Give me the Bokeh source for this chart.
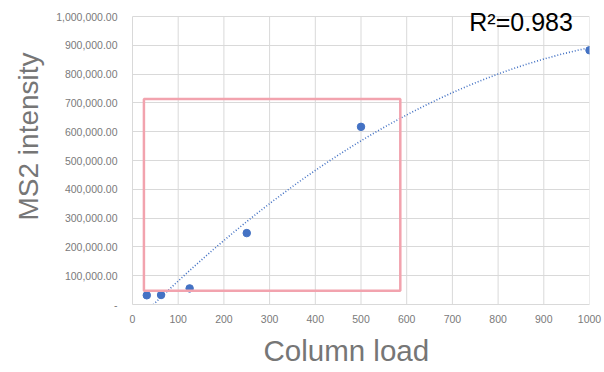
import numpy as np
from bokeh.plotting import figure
from bokeh.models import FixedTicker, Label, Range1d, Title
from bokeh.embed import file_html
from bokeh.resources import INLINE

# ---- data ----
column_load = [31.25, 62.5, 125, 250, 500, 1000]
ms2_intensity = [32000, 33000, 56000, 248000, 617000, 883000]
r2_text = "R\u00b2=0.983"
x_ticks = [0, 100, 200, 300, 400, 500, 600, 700, 800, 900, 1000]
y_ticks = [0, 100000, 200000, 300000, 400000, 500000, 600000, 700000, 800000, 900000, 1000000]
y_tick_labels = ["-", "100,000.00", "200,000.00", "300,000.00", "400,000.00", "500,000.00",
                 "600,000.00", "700,000.00", "800,000.00", "900,000.00", "1,000,000.00"]
highlight_box = {"left": 25, "right": 586, "bottom": 48000, "top": 714000}
x_title = "Column load"
y_title = "MS2 intensity"

FONT = "Liberation Sans"
GRID = "#d9d9d9"
BLUE = "#4472C4"

p = figure(width=604, height=372, output_backend="svg", toolbar_location=None,
           x_range=Range1d(0, 1000), y_range=Range1d(0, 1035000),
           min_border_left=131, min_border_right=15, min_border_top=6, min_border_bottom=66)
p.outline_line_color = None
p.background_fill_color = "white"
p.border_fill_color = "white"

for ax in (p.xaxis[0], p.yaxis[0]):
    ax.axis_line_color = GRID
    ax.major_tick_line_color = None
    ax.minor_tick_line_color = None
    ax.major_tick_out = 0
    ax.major_tick_in = 0
    ax.major_label_text_font = FONT
    ax.major_label_text_font_size = "10.5px"
    ax.major_label_text_color = "#7a7a7a"

p.xaxis[0].ticker = FixedTicker(ticks=x_ticks)
p.yaxis[0].ticker = FixedTicker(ticks=y_ticks)
p.yaxis[0].bounds = (y_ticks[0], y_ticks[-1])
p.yaxis[0].major_label_overrides = {t: l for t, l in zip(y_ticks, y_tick_labels)}
p.xaxis[0].major_label_standoff = 10
p.yaxis[0].major_label_standoff = 15

p.xgrid.visible = False
p.ygrid.grid_line_color = GRID
p.ygrid.ticker = FixedTicker(ticks=y_ticks)

# vertical grid lines limited to the value axis extent
p.segment(x0=x_ticks, y0=[y_ticks[0]] * len(x_ticks), x1=x_ticks,
          y1=[y_ticks[-1]] * len(x_ticks), line_color=GRID, line_width=1)

# trend line (2nd-order polynomial fit of the data)
coef = np.polyfit(column_load, ms2_intensity, 2)
tx = np.linspace(min(column_load), max(column_load), 300)
ty = np.polyval(coef, tx)
p.line(tx, ty, line_color=BLUE, line_width=1.6, line_dash="1 2")

p.scatter(column_load, ms2_intensity, size=7.5, fill_color=BLUE, line_color=BLUE)

p.quad(left=[highlight_box["left"]], right=[highlight_box["right"]],
       bottom=[highlight_box["bottom"]], top=[highlight_box["top"]],
       fill_color=None, line_color="#F2A3AE", line_width=2.5)

p.add_layout(Label(x=737, y=1030500, text=r2_text, text_font=FONT,
                   text_font_size="25px", text_color="black",
                   text_align="left", text_baseline="top"))

p.add_layout(Title(text=x_title, align="left", offset=131, text_font=FONT,
                   text_font_size="29.5px", text_color="#767676",
                   text_font_style="normal", standoff=12), "below")
p.add_layout(Title(text=y_title, align="left", offset=84, text_font=FONT,
                   text_font_size="28px", text_color="#767676",
                   text_font_style="normal", standoff=20), "left")

open("out.html", "w").write(file_html(p, INLINE))
